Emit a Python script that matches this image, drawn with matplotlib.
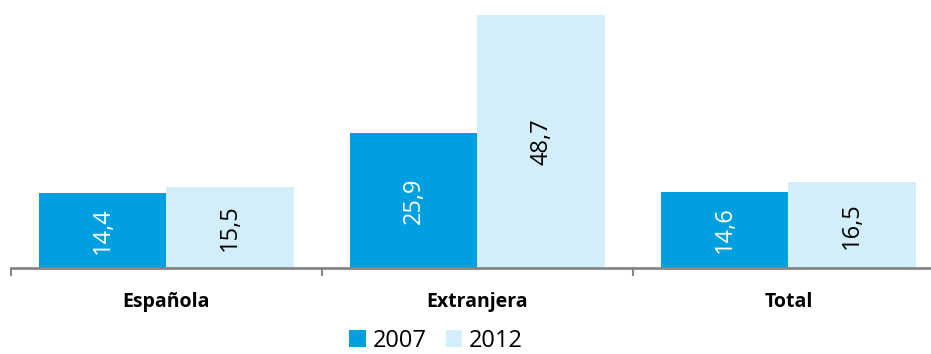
import matplotlib
matplotlib.use("Agg")
import matplotlib.pyplot as plt
import numpy as np
from matplotlib.patches import Patch

categories = ["Española", "Extranjera", "Total"]
years = ["2007", "2012"]
v2007 = [14.4, 25.9, 14.6]
v2012 = [15.5, 48.7, 16.5]

c2007 = "#009FDF"
c2012 = "#D2EEFB"
gray = "#868686"

plt.rcParams['font.family'] = ['Open Sans', 'DejaVu Sans']

fig = plt.figure(figsize=(9.31, 3.54), dpi=100)
ax = fig.add_axes([11/931, (354-268)/354, 933/931, 268/354])

x = np.arange(len(categories))
w = 0.41
b1 = ax.bar(x - w/2, v2007, w, color=c2007, edgecolor='none')
b2 = ax.bar(x + w/2, v2012, w, color=c2012, edgecolor='none')

for bars, vals, col in ((b1, v2007, 'white'), (b2, v2012, 'black')):
    for r, v in zip(bars, vals):
        ax.text(r.get_x() + r.get_width()/2, v/2, f"{v:.1f}".replace('.', ','),
                rotation=90, ha='center', va='center', color=col, fontsize=17)

ax.set_xlim(-0.5, 2.5)
ax.set_ylim(0, 268/5.195)
for s in ('top', 'left', 'right'):
    ax.spines[s].set_visible(False)
ax.spines['bottom'].set_color(gray)
ax.spines['bottom'].set_linewidth(2)
ax.set_yticks([])
ax.set_xticks([-0.5, 0.5, 1.5, 2.5])
ax.set_xticklabels([])
ax.tick_params(axis='x', which='major', length=6, width=1.5, color=gray, direction='out')
ax.set_xticks(x, minor=True)
ax.set_xticklabels(categories, minor=True, fontweight='bold', fontsize=14)
ax.tick_params(axis='x', which='minor', length=0, pad=17)

handles = [Patch(facecolor=c2007, edgecolor='none'), Patch(facecolor=c2012, edgecolor='none')]
fig.legend(handles, years, loc='center', bbox_to_anchor=(436/931, 1 - 341/354),
           ncol=2, frameon=False, fontsize=17, handlelength=0.7, handleheight=0.7,
           handletextpad=0.3, columnspacing=0.8, borderpad=0)

fig.savefig("out.png", dpi=100)
